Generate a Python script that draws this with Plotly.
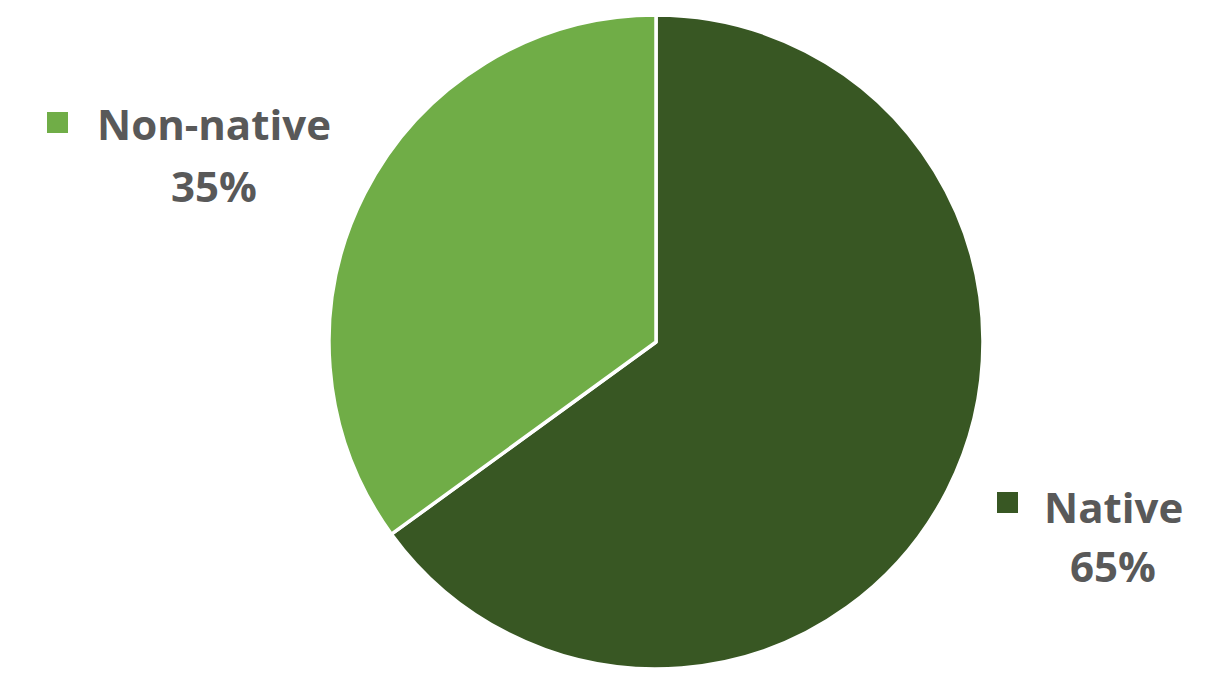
import plotly.graph_objects as go

W, H = 1212, 674
OFF = 8  # page body margin of the html output

categories = ["Native", "Non-native"]
values = [65, 35]
colors = ["#385723", "#70AD47"]
pct_labels = ["65%", "35%"]

cx, cy, r = 656 - OFF, 342 - OFF, 327

fig = go.Figure(go.Pie(
    labels=categories,
    values=values,
    sort=False,
    direction="clockwise",
    rotation=0,
    marker=dict(colors=colors, line=dict(color="white", width=3.5)),
    textinfo="none",
    hoverinfo="label+percent",
    domain=dict(x=[(cx - r) / W, (cx + r) / W], y=[1 - (cy + r) / H, 1 - (cy - r) / H]),
    showlegend=False,
))

font = dict(family="Open Sans, Noto Sans, sans-serif", size=42, color="#595959")

# label positions (page pixels): (text centre x, line1 y, line2 y, square x0, square y0)
label_pos = {
    "Non-native": (214, 124, 185, 47, 112),
    "Native": (1113, 506, 565, 997, 492),
}

for cat, col, pct in zip(categories, colors, pct_labels):
    tx, y1, y2, sx, sy = label_pos[cat]
    tx, y1, y2, sx, sy = tx - OFF, y1 - OFF, y2 - OFF, sx - OFF, sy - OFF
    fig.add_annotation(x=tx / W, y=1 - y1 / H, xref="paper", yref="paper",
                       text="<b>%s</b>" % cat, showarrow=False, font=font,
                       xanchor="center", yanchor="middle")
    fig.add_annotation(x=tx / W, y=1 - y2 / H, xref="paper", yref="paper",
                       text="<b>%s</b>" % pct, showarrow=False, font=font,
                       xanchor="center", yanchor="middle")
    fig.add_shape(type="rect", xref="paper", yref="paper",
                  x0=sx / W, x1=(sx + 21) / W, y0=1 - (sy + 21) / H, y1=1 - sy / H,
                  fillcolor=col, line=dict(width=0))

fig.update_layout(
    width=W, height=H,
    margin=dict(l=0, r=0, t=0, b=0),
    paper_bgcolor="white",
    plot_bgcolor="white",
)

fig.write_html("out.html")
